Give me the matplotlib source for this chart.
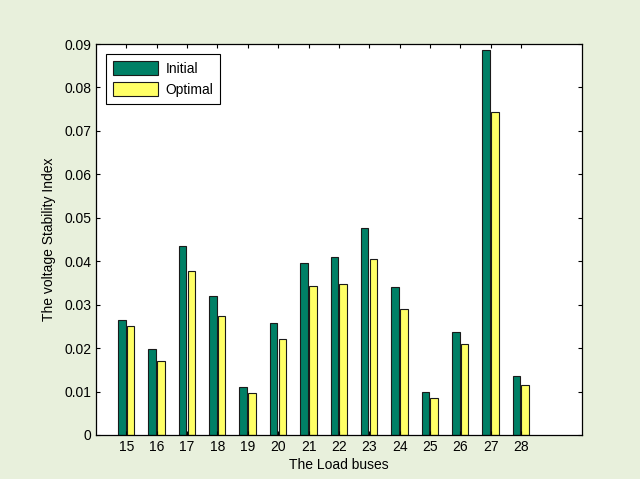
import numpy as np
import matplotlib.pyplot as plt

plt.rcParams['font.family'] = ['Liberation Sans', 'DejaVu Sans']

# Data
buses = [15, 16, 17, 18, 19, 20, 21, 22, 23, 24, 25, 26, 27, 28]
initial = [0.0264, 0.0198, 0.0434, 0.0321, 0.0111, 0.0258, 0.0395,
           0.0409, 0.0476, 0.0340, 0.0098, 0.0238, 0.0887, 0.0135]
optimal = [0.0250, 0.0171, 0.0377, 0.0274, 0.0096, 0.0221, 0.0343,
           0.0348, 0.0405, 0.0290, 0.0086, 0.0209, 0.0743, 0.0114]

x = np.array(buses)
w = 0.25

fig = plt.figure(figsize=(6.4, 4.79), dpi=100, facecolor='#E8F0DC')
ax = fig.add_axes([0.15, 0.092, 0.759, 0.816])

ax.bar(x - 0.15, initial, w, color='#008066', edgecolor='#1a1a1a', linewidth=0.8, label='Initial')
ax.bar(x + 0.14, optimal, w, color='#FFFF66', edgecolor='#1a1a1a', linewidth=0.8, label='Optimal')

ax.set_xlim(14, 30)
ax.set_ylim(0, 0.09)
ax.set_xticks(buses)
ax.set_yticks(np.arange(0, 0.0901, 0.01))
ax.set_yticklabels(['0'] + ['%.2f' % v for v in np.arange(0.01, 0.0901, 0.01)])
ax.tick_params(direction='in', top=True, right=True, labelsize=10, length=3, width=0.8)
for s in ax.spines.values():
    s.set_linewidth(0.9)

ax.set_xlabel('The Load buses', fontsize=10, labelpad=3)
ax.set_ylabel('The voltage Stability Index', fontsize=10, labelpad=6)

leg = ax.legend(loc='upper left', fontsize=10, fancybox=False, framealpha=1,
                edgecolor='black', handlelength=3.3, handleheight=1.2,
                borderpad=0.5, labelspacing=0.45, handletextpad=0.5,
                borderaxespad=0, bbox_to_anchor=(0.02, 0.974))
leg.get_frame().set_linewidth(0.8)

fig.savefig('out.png', dpi=100, facecolor=fig.get_facecolor())
